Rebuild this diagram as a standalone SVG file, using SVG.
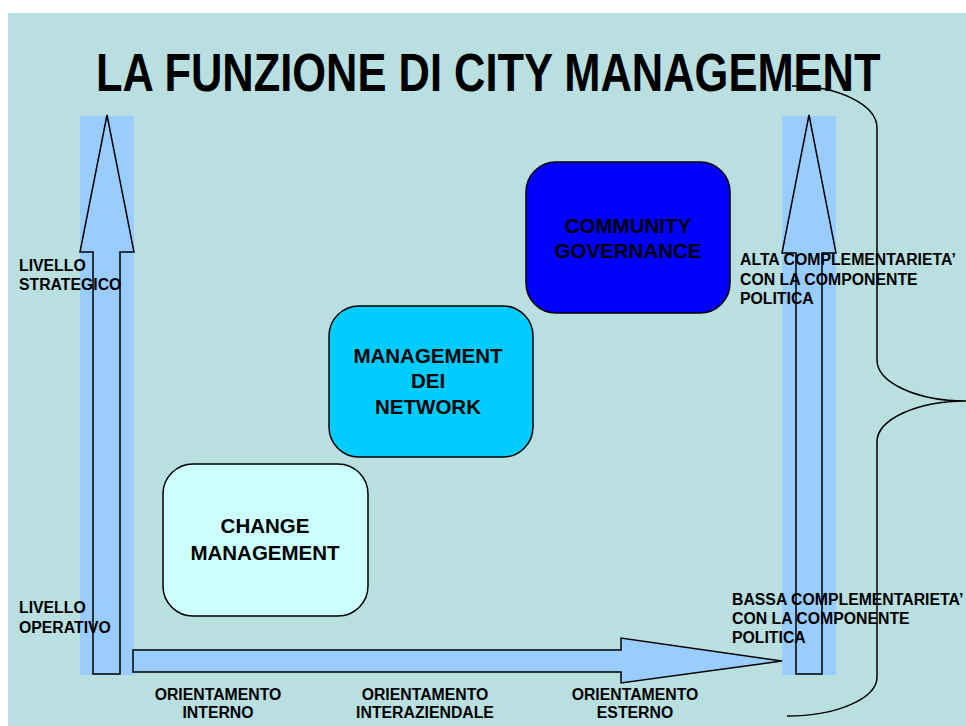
<svg xmlns="http://www.w3.org/2000/svg" width="966" height="726" viewBox="0 0 966 726">
<style>
.lbl{font-family:"Liberation Sans",Arial,sans-serif;font-weight:bold;font-size:15.8px;fill:#000}
.box{font-family:"Liberation Sans",Arial,sans-serif;font-weight:bold;font-size:20.5px;fill:#000;text-anchor:middle}
.arr{fill:#99ccff;stroke:#000;stroke-width:1.5;stroke-linejoin:miter}
.band{fill:#99ccff}
.node{stroke:#000;stroke-width:1.5}
</style>
<rect x="0" y="0" width="966" height="726" fill="#ffffff"/>
<rect x="8" y="13" width="958" height="713" fill="#b9dfe1"/>
<text transform="translate(96,91) scale(0.82,1)" x="0" y="0" font-family="'Liberation Sans',Arial,sans-serif" font-weight="bold" font-size="53">LA FUNZIONE DI CITY MANAGEMENT</text>
<g id="bands">
<rect class="band" x="80" y="116" width="54" height="559"/>
<rect class="band" x="782" y="116" width="54" height="559"/>
</g>
<g id="connectors">
<polygon class="arr" points="93,674 93,252 80,252 107,115 134,252 120,252 120,674"/>
<polygon class="arr" points="796,674 796,253 782,253 809,115 836,253 822,253 822,674"/>
<polygon class="arr" points="133,650 621,650 621,638 782,661 621,683 621,672 133,672"/>
<path d="M792,86 A85,42 0 0 1 877,128 L877,360 A89,41 0 0 0 966,401 A89,41 0 0 0 877,442 L877,677 A90,39 0 0 1 787,716" fill="none" stroke="#000" stroke-width="1.5"/>
</g>
<g id="node-change">
<rect class="node" x="163" y="464" width="205" height="152" rx="30" ry="30" fill="#ccffff"/>
<text class="box" x="265" y="533">CHANGE</text>
<text class="box" x="265" y="560">MANAGEMENT</text>
</g>
<g id="node-network">
<rect class="node" x="329" y="306" width="204" height="151" rx="30" ry="30" fill="#00ccff"/>
<text class="box" x="428" y="363">MANAGEMENT</text>
<text class="box" x="428" y="388">DEI</text>
<text class="box" x="428" y="414">NETWORK</text>
</g>
<g id="node-community">
<rect class="node" x="526" y="162" width="204" height="151" rx="30" ry="30" fill="#0000ff"/>
<text class="box" x="628" y="233">COMMUNITY</text>
<text class="box" x="628" y="258">GOVERNANCE</text>
</g>
<g id="labels">
<text class="lbl" x="19" y="271">LIVELLO</text>
<text class="lbl" x="19" y="290">STRATEGICO</text>
<text class="lbl" x="19" y="613">LIVELLO</text>
<text class="lbl" x="19" y="633">OPERATIVO</text>
<text class="lbl" x="740" y="265">ALTA COMPLEMENTARIETA’</text>
<text class="lbl" x="740" y="285">CON LA COMPONENTE</text>
<text class="lbl" x="740" y="304">POLITICA</text>
<text class="lbl" x="732" y="605">BASSA COMPLEMENTARIETA’</text>
<text class="lbl" x="732" y="624">CON LA COMPONENTE</text>
<text class="lbl" x="732" y="643">POLITICA</text>
<g text-anchor="middle">
<text class="lbl" x="218" y="700">ORIENTAMENTO</text>
<text class="lbl" x="218" y="718">INTERNO</text>
<text class="lbl" x="425" y="700">ORIENTAMENTO</text>
<text class="lbl" x="425" y="718">INTERAZIENDALE</text>
<text class="lbl" x="635" y="700">ORIENTAMENTO</text>
<text class="lbl" x="635" y="718">ESTERNO</text>
</g>
</g>
</svg>
